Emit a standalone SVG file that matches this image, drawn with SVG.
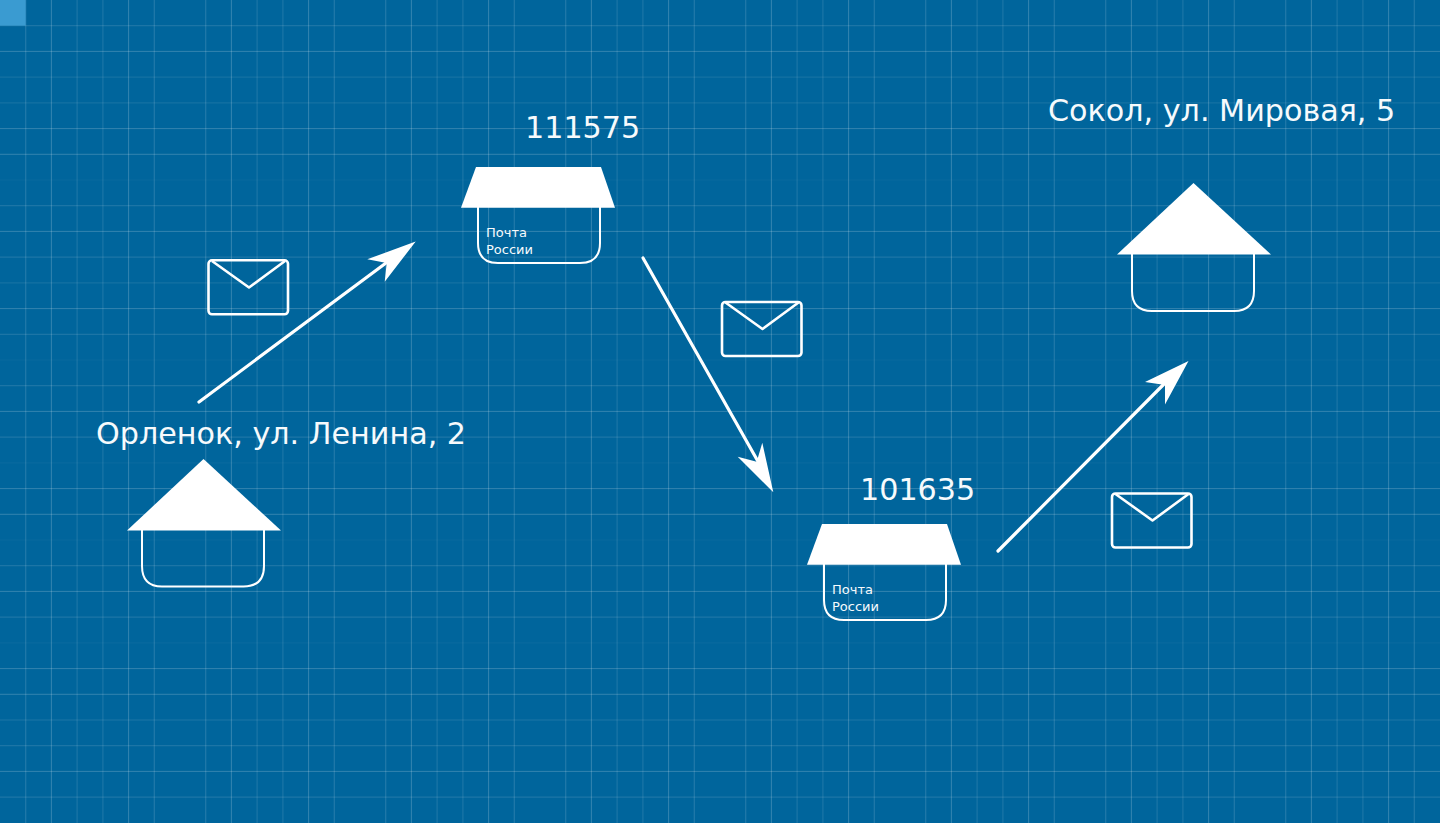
<svg xmlns="http://www.w3.org/2000/svg" width="1440" height="823" viewBox="0 0 1440 823">
<defs>
<pattern id="gx" width="180" height="823" patternUnits="userSpaceOnUse">
<path d="M25.7 0V823M154.300 0V823" stroke="#fff" stroke-opacity=".13" stroke-width="1.200"/>
<path d="M77.100 0V823M102.900 0V823" stroke="#fff" stroke-opacity=".1" stroke-width="1.200"/>
<path d="M51.400 0V823M128.600 0V823" stroke="#fff" stroke-opacity=".2" stroke-width="1"/>
</pattern>
</defs>
<style>
.b{fill:none;stroke:#fff;stroke-width:2}
.m{fill:none;stroke:#fff;stroke-width:2.600;stroke-linejoin:round}
.t{font-family:"DejaVu Sans",sans-serif;fill:#f6fafc}
.l{font-size:30.200px}.s{font-size:13px}
.c{fill:none;stroke:#fff;stroke-width:3.200;stroke-linecap:round}
.a{fill:#fff}
</style>
<rect width="1440" height="823" fill="#00659c"/>
<rect width="1440" height="823" fill="url(#gx)"/>
<path stroke="#fff" stroke-opacity=".2" stroke-width="1" d="M0 51.400H1440M0 128.600H1440M0 154.300H1440M0 231.400H1440M0 308.600H1440M0 411.400H1440M0 488.600H1440M0 514.300H1440M0 591.400H1440M0 668.600H1440M0 694.300H1440M0 771.400H1440"/>
<path stroke="#fff" stroke-opacity=".11" stroke-width="1.200" d="M0 25.700H1440M0 205.700H1440M0 257.100H1440M0 334.300H1440M0 385.700H1440M0 437.100H1440M0 565.700H1440M0 617.100H1440M0 720H1440M0 745.700H1440M0 797.100H1440"/>
<path stroke="#fff" stroke-opacity=".08" stroke-width="1.200" d="M0 77.100H1440M0 102.900H1440M0 282.900H1440"/>
<path stroke="#fff" stroke-opacity=".03" stroke-width="1.200" d="M0 180H1440M0 360H1440M0 462.900H1440M0 540H1440M0 642.900H1440"/>
<rect width="25.700" height="25.700" fill="#3a9bd1"/>
<g id="connectors">
<path class="c" d="M199 402L390 260"/><path class="a" d="M415.700 241.500L367.300 259.300L386.700 263L384.700 281.700Z"/>
<path class="c" d="M643 258L760 465"/><path class="a" d="M773.300 492.300L762.300 442.700L756.700 461.700L737.700 456.700Z"/>
<path class="c" d="M998 551L1168 380"/><path class="a" d="M1188.500 361L1145 382L1165 385L1165 404.500Z"/>
</g>
<g id="home-a"><path class="b" d="M142 530V566Q142 586.500 162 586.500H243.500Q264 586.500 264 566V530"/><path class="a" d="M203.500 459L281 530.500H127Z"/><text class="t l" x="96" y="443.500">Орленок, ул. Ленина, 2</text></g>
<g id="post-a"><path class="b" d="M478 207V243Q478 263 498 263H580Q600 263 600 243V207"/><path class="a" d="M476 167H601L615 207.700H461Z"/><text class="t l" x="525" y="137.500">111575</text><text class="t s" x="486" y="237">Почта</text><text class="t s" x="486" y="254">России</text></g>
<g id="post-b"><path class="b" d="M824 564V600Q824 620 844 620H926Q946 620 946 600V564"/><path class="a" d="M822 524H947L961 564.700H807Z"/><text class="t l" x="860" y="499.500">101635</text><text class="t s" x="832" y="594">Почта</text><text class="t s" x="832" y="611">России</text></g>
<g id="home-b"><path class="b" d="M1132 254V291Q1132 311 1152 311H1234Q1254 311 1254 291V254"/><path class="a" d="M1193.500 183L1271 254.500H1117Z"/><text class="t l" x="1048" y="120.500">Сокол, ул. Мировая, 5</text></g>
<g id="mail-a"><rect class="m" x="208.500" y="260.300" width="79.500" height="54" rx="3.500"/><path class="m" d="M212 261L249 287.500L285 261"/></g>
<g id="mail-b"><rect class="m" x="722" y="302" width="79.500" height="54" rx="3.500"/><path class="m" d="M725.500 302.500L762.500 329L798.500 302.500"/></g>
<g id="mail-c"><rect class="m" x="1112" y="493.500" width="79.500" height="54" rx="3.500"/><path class="m" d="M1115.500 494L1152.500 520.500L1188.500 494"/></g>
</svg>
